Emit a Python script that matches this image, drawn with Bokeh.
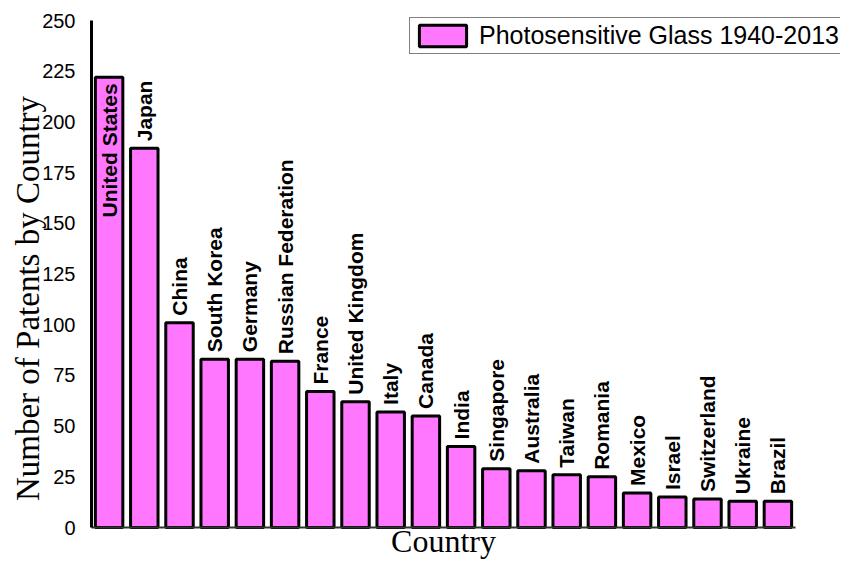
import math
from bokeh.plotting import figure
from bokeh.models import ColumnDataSource, Range1d, FixedTicker, Label
from bokeh.core.properties import value
from bokeh.embed import file_html
from bokeh.resources import INLINE

countries = ["United States", "Japan", "China", "South Korea", "Germany",
             "Russian Federation", "France", "United Kingdom", "Italy", "Canada",
             "India", "Singapore", "Australia", "Taiwan", "Romania", "Mexico",
             "Israel", "Switzerland", "Ukraine", "Brazil"]
patents = [222, 187, 101, 83, 83, 82, 67, 62, 57, 55,
           40, 29, 28, 26, 25, 17, 15, 14, 13, 13]
y_ticks = [0, 25, 50, 75, 100, 125, 150, 175, 200, 225, 250]
series_name = "Photosensitive Glass 1940-2013"
y_title = "Number of Patents by Country"
x_title = "Country"
y_max = 250

n = len(countries)
inside = [v > 200 for v in patents]
src = ColumnDataSource(dict(
    xpos=[i + 0.5 for i in range(n)],
    country=countries,
    patents=patents,
    align=["right" if i else "left" for i in inside],
    yoff=[6 if i else -7 for i in inside],
))

# ---- layout (pixels within the 840x559 canvas) ----
W, H = 840, 559
AX_X = 91          # pixel x of the value axis
TOP_PX = 20        # pixel y of y_max
ZERO_PX = 527      # pixel y of 0
pitch = 35.2       # pixels per category
ppu = (ZERO_PX - TOP_PX) / y_max

def dx(px):
    return (px - AX_X) / pitch

def dy(py):
    return (ZERO_PX - py) / ppu

p = figure(width=W, height=H, output_backend="svg", toolbar_location=None,
           x_range=Range1d(dx(0), dx(W)), y_range=Range1d(dy(H), dy(0)),
           min_border_left=0, min_border_right=0, min_border_top=0, min_border_bottom=0)

p.vbar(x="xpos", top="patents", width=0.78, source=src,
       fill_color="#FF77FF", line_color="black", line_width=3,
       legend_label=series_name)

p.text(x="xpos", y="patents", text="country", source=src,
       angle=math.pi / 2, text_align="align", y_offset="yoff",
       text_baseline="middle", text_font=value("Liberation Sans"),
       text_font_style="bold", text_font_size="21px", text_color="black")

p.outline_line_color = None
p.xgrid.grid_line_color = None
p.ygrid.grid_line_color = None

p.yaxis.fixed_location = 0
p.yaxis.ticker = FixedTicker(ticks=y_ticks)
p.yaxis.bounds = (0, y_max)
p.yaxis.major_tick_line_color = None
p.yaxis.minor_tick_line_color = None
p.yaxis.axis_line_color = "black"
p.yaxis.axis_line_width = 3
p.yaxis.major_label_text_font = "Liberation Sans"
p.yaxis.major_label_text_font_size = "20px"
p.yaxis.major_label_text_color = "black"
p.yaxis.major_label_standoff = 10

p.xaxis.fixed_location = 0
p.xaxis.ticker = FixedTicker(ticks=[])
p.xaxis.bounds = (0, n)
p.xaxis.major_tick_line_color = None
p.xaxis.minor_tick_line_color = None
p.xaxis.axis_line_color = "#333333"
p.xaxis.axis_line_width = 2

p.add_layout(Label(x=dx(27), y=dy(298), text=y_title, angle=math.pi / 2,
                   text_align="center", text_baseline="middle",
                   text_font="Liberation Serif", text_font_size="33px",
                   text_color="black"))
p.add_layout(Label(x=dx(443), y=dy(558), text=x_title,
                   text_align="center", text_baseline="bottom",
                   text_font="Liberation Serif", text_font_size="32px",
                   text_color="black"))

lg = p.legend[0]
lg.location = (409, H - 54)
lg.border_line_color = "black"
lg.border_line_width = 1
lg.background_fill_color = "white"
lg.background_fill_alpha = 1
lg.padding = 3
lg.margin = 0
lg.spacing = 0
lg.glyph_width = 59
lg.glyph_height = 27
lg.label_standoff = 7
lg.label_text_font = "Liberation Sans"
lg.label_text_font_size = "25px"
lg.label_text_color = "black"
lg.label_height = 27

open("out.html", "w").write(file_html(p, INLINE))
